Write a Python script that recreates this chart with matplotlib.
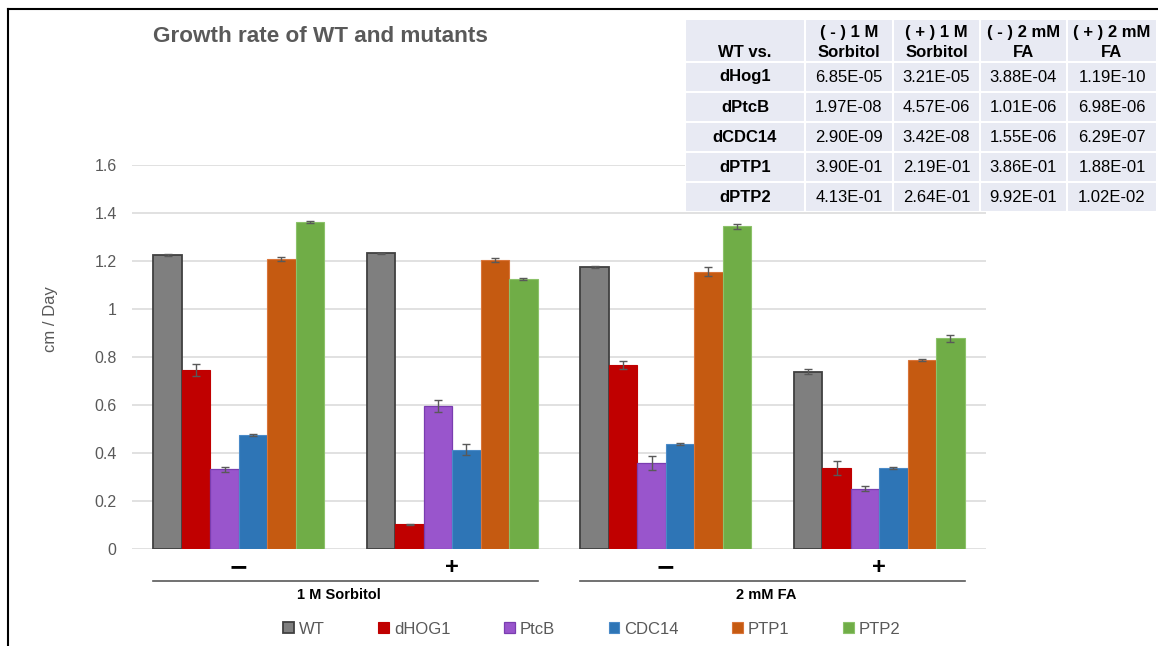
import matplotlib
matplotlib.use("Agg")
import matplotlib.pyplot as plt
import numpy as np
from matplotlib.patches import Rectangle
from matplotlib.lines import Line2D

plt.rcParams['font.family'] = ['Liberation Sans', 'DejaVu Sans']

# ---------------- data ----------------
conditions = ["−", "+", "−", "+"]
treatments = ["1 M Sorbitol", "2 mM FA"]
strains = ["WT", "dHOG1", "PtcB", "CDC14", "PTP1", "PTP2"]

wt    = [1.225, 1.232, 1.175, 0.740]
dhog1 = [0.746, 0.105, 0.768, 0.338]
ptcb  = [0.333, 0.597, 0.358, 0.252]
cdc14 = [0.475, 0.414, 0.440, 0.338]
ptp1  = [1.210, 1.204, 1.156, 0.788]
ptp2  = [1.363, 1.126, 1.344, 0.878]

wt_err    = [0.003, 0.003, 0.003, 0.011]
dhog1_err = [0.024, 0.002, 0.018, 0.030]
ptcb_err  = [0.011, 0.025, 0.029, 0.010]
cdc14_err = [0.005, 0.023, 0.004, 0.005]
ptp1_err  = [0.008, 0.008, 0.020, 0.005]
ptp2_err  = [0.005, 0.005, 0.012, 0.015]

yticks = [0, 0.2, 0.4, 0.6, 0.8, 1, 1.2, 1.4, 1.6]
ytick_labels = ["0", "0.2", "0.4", "0.6", "0.8", "1", "1.2", "1.4", "1.6"]

table_header = ["WT vs.", "( - ) 1 M\nSorbitol", "( + ) 1 M\nSorbitol", "( - ) 2 mM\nFA", "( + ) 2 mM\nFA"]
table_rows = ["dHog1", "dPtcB", "dCDC14", "dPTP1", "dPTP2"]
pv_sorb_minus = ["6.85E-05", "1.97E-08", "2.90E-09", "3.90E-01", "4.13E-01"]
pv_sorb_plus  = ["3.21E-05", "4.57E-06", "3.42E-08", "2.19E-01", "2.64E-01"]
pv_fa_minus   = ["3.88E-04", "1.01E-06", "1.55E-06", "3.86E-01", "9.92E-01"]
pv_fa_plus    = ["1.19E-10", "6.98E-06", "6.29E-07", "1.88E-01", "1.02E-02"]

# ---------------- styling ----------------
series = [wt, dhog1, ptcb, cdc14, ptp1, ptp2]
errs = [wt_err, dhog1_err, ptcb_err, cdc14_err, ptp1_err, ptp2_err]
colors = ["#7F7F7F", "#C00000", "#9955CC", "#2E75B6", "#C55A11", "#70AD47"]
edges = ["#404040", "#C00000", "#7A3DB0", "#4A8AC8", "#D9753A", "#8CC26A"]
edge_lw = [1.3, 0.8, 0.9, 0.8, 0.8, 0.8]
txt_gray = "#595959"

W, H = 1158, 646
fig = plt.figure(figsize=(W / 100, H / 100), dpi=100)
fig.patch.set_facecolor("white")

def fx(px):
    return px / W

def fy(py):
    return 1 - py / H

ax_l, ax_r, ax_t, ax_b = 132, 986, 165, 549.3
ax = fig.add_axes([fx(ax_l), fy(ax_b), (ax_r - ax_l) / W, (ax_b - ax_t) / H])

x = np.arange(len(conditions))
n = len(strains)
bw = 1 / 7.5
for i, (vals, e, c, ec, lw, name) in enumerate(zip(series, errs, colors, edges, edge_lw, strains)):
    pos = x + (i - (n - 1) / 2) * bw
    ax.bar(pos, vals, width=bw, color=c, edgecolor=ec, linewidth=lw, label=name, zorder=3)
    ax.errorbar(pos, vals, yerr=e, fmt="none", ecolor=txt_gray, elinewidth=1,
                capsize=3, capthick=1, zorder=4)

ax.set_xlim(-0.5, len(conditions) - 0.5)
ax.set_ylim(0, 1.6)
ax.set_yticks(yticks)
ax.set_yticklabels(ytick_labels)
ax.tick_params(axis="y", length=0, pad=11, labelsize=11.5, labelcolor=txt_gray)
ax.set_xticks([])
ax.yaxis.grid(True, color="#D9D9D9", linewidth=1.1, zorder=0)
for s in ["top", "right", "left", "bottom"]:
    ax.spines[s].set_visible(False)
ax.set_axisbelow(True)

# category labels
xt = ax.get_xaxis_transform()
axh = ax_b - ax_t
for xi, lab in zip(x, conditions):
    ax.text(xi, -(567 - ax_b) / axh, lab, transform=xt, ha="center", va="center",
            fontsize=17, fontweight="bold", color="black",
            family=["DejaVu Sans"] if lab == "−" else None)
# group lines and labels
half = n * bw / 2
for gi, tname in enumerate(treatments):
    x0 = x[2 * gi] - half
    x1 = x[2 * gi + 1] + half
    ax.add_line(Line2D([x0, x1], [-(581 - ax_b) / axh] * 2, transform=xt, color="#595959",
                       linewidth=1.2, clip_on=False))
    ax.text((x0 + x1) / 2 - 0.03, -(595 - ax_b) / axh, tname, transform=xt, ha="center",
            va="center", fontsize=10.5, fontweight="bold", color="black")

# y label
fig.text(fx(51), fy(319), "cm / Day", rotation=90, ha="center", va="center",
         fontsize=12, color=txt_gray)

# title
fig.text(fx(153), fy(36), "Growth rate of WT and mutants", ha="left", va="center",
         fontsize=16.2, fontweight="bold", color=txt_gray)

# legend
leg = fig.legend(loc="center", bbox_to_anchor=(fx(592), fy(629)), ncol=6, frameon=False,
                 fontsize=12, handlelength=0.65, handleheight=0.65, handletextpad=0.3,
                 columnspacing=3.2, labelcolor=txt_gray)

# border lines
fig.add_artist(Line2D([fx(8), fx(8)], [fy(9), 0], color="black", linewidth=1.5))
fig.add_artist(Line2D([fx(8), 1], [fy(9), fy(9)], color="black", linewidth=1.5))

# table
tl, tr, tt, tb = 685, 1157, 19, 212
tax = fig.add_axes([fx(tl), fy(tb), (tr - tl) / W, (tb - tt) / H])
tax.set_xlim(tl, tr)
tax.set_ylim(tb, tt)
tax.axis("off")
col_edges = [685, 805, 893, 980, 1067, 1157]
row_edges = [19, 62, 92, 122, 152, 182, 212]
cell_bg = "#E8EAF3"
for ri in range(len(row_edges) - 1):
    for ci in range(len(col_edges) - 1):
        tax.add_patch(Rectangle((col_edges[ci], row_edges[ri]), col_edges[ci + 1] - col_edges[ci],
                                row_edges[ri + 1] - row_edges[ri], facecolor=cell_bg,
                                edgecolor="white", linewidth=1.5))
cols = [table_rows, pv_sorb_minus, pv_sorb_plus, pv_fa_minus, pv_fa_plus]
for ci, h in enumerate(table_header):
    cx = (col_edges[ci] + col_edges[ci + 1]) / 2
    tax.text(cx, 60, h, ha="center", va="bottom", fontsize=12, fontweight="bold",
             color="black", linespacing=1.45)
for ri in range(len(table_rows)):
    cy = (row_edges[ri + 1] + row_edges[ri + 2]) / 2
    for ci, col in enumerate(cols):
        cx = (col_edges[ci] + col_edges[ci + 1]) / 2
        tax.text(cx, cy, col[ri], ha="center", va="center", fontsize=12,
                 fontweight="bold" if ci == 0 else "normal", color="black")

fig.savefig("out.png", dpi=100, facecolor="white")
